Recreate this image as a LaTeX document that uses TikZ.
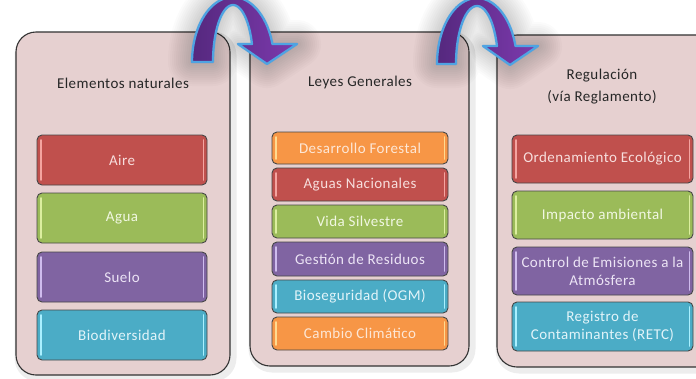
\documentclass[tikz,border=0pt]{standalone}
\usepackage{fontspec}
\setmainfont{Carlito}[LetterSpace=3]
\definecolor{panelfill}{HTML}{E6D0D0}
\definecolor{redbase}{HTML}{C0504D}\definecolor{redstr}{HTML}{F4A4A0}\definecolor{redtxt}{HTML}{F7DEDD}
\definecolor{greenbase}{HTML}{9BBB59}\definecolor{greenstr}{HTML}{DCEEA0}\definecolor{greentxt}{HTML}{F1F7E2}
\definecolor{purplebase}{HTML}{8064A2}\definecolor{purplestr}{HTML}{CFBCEE}\definecolor{purpletxt}{HTML}{ECE4F5}
\definecolor{aquabase}{HTML}{4BACC6}\definecolor{aquastr}{HTML}{AAF0FF}\definecolor{aquatxt}{HTML}{E2F4F9}
\definecolor{orangebase}{HTML}{F79646}\definecolor{orangestr}{HTML}{FFDA90}\definecolor{orangetxt}{HTML}{FDE7D6}
\definecolor{arrowdark}{HTML}{55287E}\definecolor{arrowlight}{HTML}{7D3AAE}\definecolor{arrowblue}{HTML}{4FA3E2}
\newcommand\colbox[7]{%
  \node[boxnode, fill=#6base, text=#6txt, minimum width={#4-#2}, minimum height={#5-#3}] (#1) at ({(#2+#4)/2},{(#3+#5)/2}) {#7};
  \draw[#6str, line width=1.8pt, line cap=round] ([xshift=3.6pt,yshift=-5pt]#1.north west) -- ([xshift=3.6pt,yshift=5pt]#1.south west);
  \draw[#6str, line width=1.8pt, line cap=round] ([xshift=-3.6pt,yshift=-5pt]#1.north east) -- ([xshift=-3.6pt,yshift=5pt]#1.south east);
}
\begin{document}
\begin{tikzpicture}[x=1pt,y=-1pt,
  panel/.style={draw=black!80, line width=1.1pt, fill=panelfill, rounded corners=20pt},
  panelshadow/.style={draw=black, draw opacity=0.07, line width=7pt, rounded corners=20pt},
  boxnode/.style={draw=black!72, line width=0.9pt, rounded corners=5pt, inner sep=1pt, outer sep=0pt, align=center, font=\fontsize{15}{18}\selectfont},
  title/.style={text=black!85, align=center, font=\fontsize{15}{22}\selectfont},
  arrowA/.style={insert path={plot[domain=180:344, samples=40, smooth, variable=\t] ({233+41*cos(\t)},{62+65*sin(\t)}) -- (297,44) -- (267,64) -- (238,44) -- plot[domain=341.6:180, samples=40, smooth, variable=\t] ({233+20*cos(\t)},{62+57*sin(\t)}) -- cycle}},
  arrowB/.style={insert path={plot[domain=180:344.2, samples=40, smooth, variable=\t] ({477+40*cos(\t)},{64+66*sin(\t)}) -- (538,46) -- (510,65) -- (483,46) -- plot[domain=341.9:180, samples=40, smooth, variable=\t] ({477+21*cos(\t)},{64+58*sin(\t)}) -- cycle}},
  arrowfill/.style={draw=arrowblue, line width=2.3pt, line join=round, left color=arrowdark, right color=arrowlight}
]
\clip (0,0) rectangle (696,378);
\fill[white] (0,0) rectangle (696,378);
% panel shadows
\draw[panelshadow] (18,35) rectangle (233,378);
\draw[panelshadow] (252,35) rectangle (472,369);
\draw[panelshadow] (499,38) rectangle (720,370);
% panels
\draw[panel] (16,32) rectangle (230,375);
\draw[panel] (250,32) rectangle (469,366);
\draw[panel] (497,35) rectangle (720,367);
% titles
\node[title] (t1) at (123,83) {Elementos naturales};
\node[title] (t2) at (360,82) {Leyes Generales};
\node[title] (t3) at (602,87) {Regulación\\(vía Reglamento)};
% panel 1 boxes
\colbox{aire}{37}{135}{207}{185}{red}{Aire}
\colbox{agua}{37}{193}{207}{243}{green}{Agua}
\colbox{suelo}{37}{252}{207}{302}{purple}{Suelo}
\colbox{biod}{37}{310}{207}{360}{aqua}{Biodiversidad}
% panel 2 boxes
\colbox{forestal}{272}{132}{448}{164}{orange}{Desarrollo Forestal}
\colbox{aguasn}{272}{168}{448}{201}{red}{Aguas Nacionales}
\colbox{vida}{272}{205}{448}{238}{green}{Vida Silvestre}
\colbox{residuos}{272}{242}{448}{276}{purple}{Gestión de Residuos}
\colbox{bioseg}{272}{280}{448}{313}{aqua}{Bioseguridad (OGM)}
\colbox{cambio}{272}{317}{448}{350}{orange}{Cambio Climático}
% panel 3 boxes
\colbox{orden}{512}{135}{693}{183}{red}{Ordenamiento Ecológico}
\colbox{impacto}{512}{191}{693}{239}{green}{Impacto ambiental}
\colbox{control}{512}{247}{693}{295}{purple}{Control de Emisiones a la\\Atmósfera}
\colbox{retc}{512}{302}{693}{351}{aqua}{Registro de\\Contaminantes (RETC)}
% arrow halos
\foreach \w in {4,8,...,48}{
  \path[arrowA, draw=black, draw opacity=0.016, line width=\w pt, line join=round];
  \path[arrowB, draw=black, draw opacity=0.016, line width=\w pt, line join=round];
}
% arrows
\path[arrowA, arrowfill];
\path[arrowB, arrowfill];
\end{tikzpicture}
\end{document}
